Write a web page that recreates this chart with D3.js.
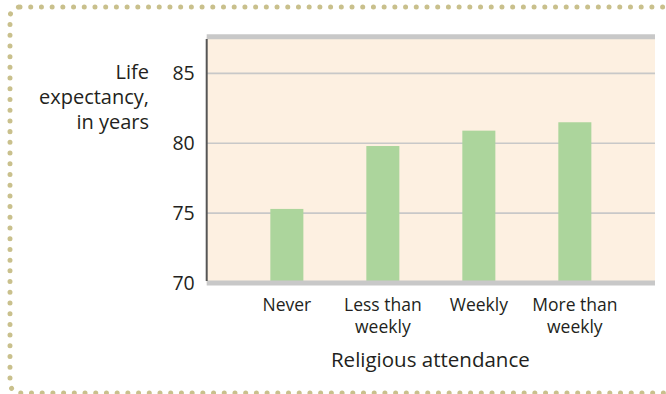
<!DOCTYPE html>
<html>
<head>
<meta charset="utf-8">
<script src="https://cdn.jsdelivr.net/npm/d3@7"></script>
<style>
  html, body { margin: 0; padding: 0; background: #ffffff; }
  svg { display: block; }
  text { font-family: "Open Sans", "Noto Sans", sans-serif; fill: #231f20; }
</style>
</head>
<body>
<svg id="chart" width="666" height="394"></svg>
<script>
// Life expectancy by religious attendance
const categories = [["Never"], ["Less than", "weekly"], ["Weekly"], ["More than", "weekly"]];
const lifeExpectancy = [75.3, 79.8, 80.9, 81.5];
const yTicks = [70, 75, 80, 85];
const yTitle = ["Life", "expectancy,", "in years"];
const xTitle = "Religious attendance";

const svg = d3.select("#chart");

// dotted frame with rounded corners (right side runs off the canvas)
svg.append("rect")
  .attr("x", 10).attr("y", 7)
  .attr("width", 700).attr("height", 386)
  .attr("rx", 10).attr("ry", 10)
  .attr("fill", "none")
  .attr("stroke", "#c9c08c")
  .attr("stroke-width", 5)
  .attr("stroke-linecap", "round")
  .attr("stroke-dasharray", "0.01 10.7");

const plot = { left: 206.7, right: 655, top: 37, bottom: 283 };

const x = d3.scaleBand()
  .domain(categories.map((c, i) => i))
  .range([plot.left, plot.right])
  .paddingInner(0.656)
  .paddingOuter(0.663);

const y = d3.scaleLinear()
  .domain([70, 87.6])
  .range([plot.bottom, plot.top]);

// plot background
svg.append("rect")
  .attr("x", plot.left).attr("y", plot.top)
  .attr("width", plot.right - plot.left)
  .attr("height", plot.bottom - plot.top)
  .attr("fill", "#fdf0e1");

// tick labels on the value axis
const yAxis = d3.axisLeft(y).tickValues(yTicks).tickSize(0).tickPadding(12);
const gy = svg.append("g").attr("transform", `translate(${plot.left},0)`).call(yAxis);
gy.select(".domain").remove();
gy.selectAll(".tick line").remove();
gy.selectAll(".tick text")
  .attr("fill", "#231f20")
  .style("font-size", "19.5px")
  .style("font-family", '"Open Sans", sans-serif');

// horizontal gridlines
svg.append("g").selectAll("line")
  .data(yTicks.filter(t => t > 70))
  .join("line")
  .attr("x1", plot.left).attr("x2", plot.right)
  .attr("y1", d => y(d)).attr("y2", d => y(d))
  .attr("stroke", "#c8c8c8").attr("stroke-width", 1.6);

// bars
svg.append("g").selectAll("rect")
  .data(lifeExpectancy)
  .join("rect")
  .attr("x", (d, i) => x(i))
  .attr("width", x.bandwidth())
  .attr("y", d => y(d))
  .attr("height", d => y(70) - y(d))
  .attr("fill", "#acd59c");

// top and bottom frame bars of the plot
svg.append("line")
  .attr("x1", plot.left).attr("x2", plot.right)
  .attr("y1", plot.top - 0.3).attr("y2", plot.top - 0.3)
  .attr("stroke", "#c8c8c8").attr("stroke-width", 5);
svg.append("line")
  .attr("x1", plot.left).attr("x2", plot.right)
  .attr("y1", y(70)).attr("y2", y(70))
  .attr("stroke", "#c8c8c8").attr("stroke-width", 5);

// left axis line
svg.append("line")
  .attr("x1", plot.left).attr("x2", plot.left)
  .attr("y1", plot.top + 2).attr("y2", y(70) - 2)
  .attr("stroke", "#555555").attr("stroke-width", 2);

// category labels
const xAxis = d3.axisBottom(x).tickSize(0).tickFormat(() => "");
const gx = svg.append("g").attr("transform", `translate(0,${y(70)})`).call(xAxis);
gx.select(".domain").remove();
gx.selectAll(".tick").each(function(d) {
  const t = d3.select(this).select("text")
    .attr("y", 0).attr("dy", null)
    .style("font-size", "17.5px")
    .style("font-family", '"Open Sans", sans-serif')
    .attr("fill", "#231f20");
  categories[d].forEach((line, k) => {
    t.append("tspan").attr("x", 0).attr("y", 28 + k * 22).text(line);
  });
});

// x-axis title
svg.append("text")
  .attr("x", (plot.left + plot.right) / 2 - 0.5)
  .attr("y", 367)
  .attr("text-anchor", "middle")
  .style("font-size", "20.5px")
  .text(xTitle);

// y-axis title
const yt = svg.append("text")
  .attr("text-anchor", "end")
  .style("font-size", "20px");
yTitle.forEach((line, k) => {
  yt.append("tspan").attr("x", 149).attr("y", 79 + k * 25).text(line);
});
</script>
</body>
</html>
